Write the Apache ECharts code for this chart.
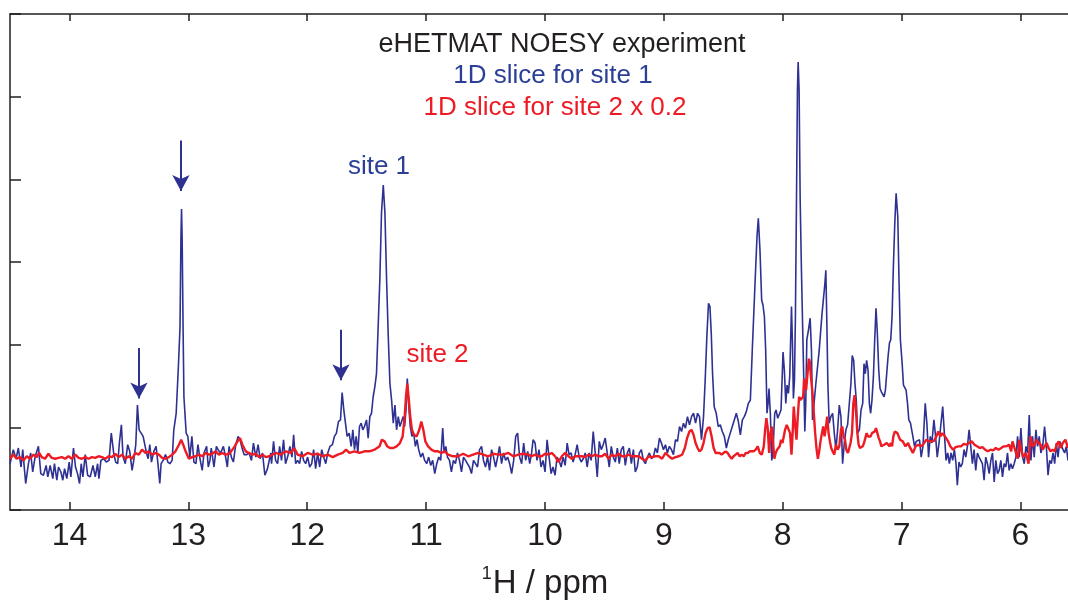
<!DOCTYPE html>
<html>
<head>
<meta charset="utf-8">
<script src="https://cdn.jsdelivr.net/npm/echarts@6/dist/echarts.min.js"></script>
<style>html,body{margin:0;padding:0;background:#fff}#c{width:1068px;height:602px}</style>
</head>
<body>
<div id="c"></div>
<script>
// x tick labels (ppm)
const ppmTicks = [14, 13, 12, 11, 10, 9, 8, 7, 6];
// y axis (arbitrary intensity units)
const yTicks = [0, 1, 2, 3, 4, 5, 6];

// 1D slice for site 1 : [ppm, intensity]
const blueSlice = [
[14.500,0.56],[14.472,0.73],[14.449,0.62],[14.430,0.75],[14.407,0.52],[14.393,0.73],[14.368,0.32],[14.345,0.56],[14.326,0.69],[14.309,0.46],
[14.289,0.64],[14.261,0.77],[14.241,0.44],[14.219,0.42],[14.196,0.54],[14.182,0.40],[14.162,0.54],[14.140,0.38],[14.126,0.56],[14.106,0.36],
[14.092,0.52],[14.072,0.46],[14.056,0.36],[14.041,0.50],[14.022,0.38],[14.002,0.58],[13.988,0.40],[13.966,0.75],[13.949,0.52],[13.932,0.44],
[13.915,0.32],[13.901,0.56],[13.887,0.40],[13.867,0.67],[13.847,0.42],[13.825,0.40],[13.802,0.54],[13.783,0.40],[13.763,0.56],[13.752,0.38],
[13.735,0.60],[13.712,0.62],[13.690,0.58],[13.667,0.60],[13.648,0.93],[13.628,0.69],[13.611,0.58],[13.594,0.56],[13.580,0.81],[13.563,1.03],
[13.549,0.64],[13.530,0.56],[13.510,0.79],[13.493,0.71],[13.473,0.48],[13.459,0.60],[13.442,0.79],[13.428,1.27],[13.414,0.97],[13.397,0.93],
[13.380,0.89],[13.366,0.79],[13.352,0.69],[13.338,0.62],[13.324,0.79],[13.310,0.58],[13.290,0.71],[13.271,0.77],[13.254,0.54],[13.240,0.32],
[13.229,0.56],[13.212,0.60],[13.192,0.67],[13.172,0.58],[13.155,0.56],[13.136,0.60],[13.122,0.97],[13.102,1.17],[13.085,1.69],[13.070,2.20],
[13.062,3.30],[13.057,3.64],[13.052,3.30],[13.044,2.20],[13.037,1.37],[13.018,0.93],[13.004,0.89],[12.987,0.64],[12.970,0.89],[12.953,0.58],
[12.936,0.56],[12.919,0.79],[12.902,0.62],[12.883,0.48],[12.868,0.69],[12.846,0.77],[12.832,0.52],[12.818,0.60],[12.807,0.75],[12.784,0.52],
[12.764,0.77],[12.750,0.73],[12.728,0.69],[12.705,0.77],[12.686,0.64],[12.672,0.52],[12.657,0.77],[12.638,0.64],[12.621,0.58],[12.601,0.79],
[12.581,0.89],[12.565,0.85],[12.548,0.75],[12.531,0.67],[12.508,0.67],[12.489,0.69],[12.469,0.60],[12.452,0.81],[12.432,0.64],[12.413,0.79],
[12.396,0.62],[12.376,0.69],[12.356,0.42],[12.334,0.50],[12.306,0.69],
[12.300,0.56],[12.283,0.83],[12.266,0.60],[12.249,0.56],[12.232,0.77],[12.216,0.60],[12.199,0.85],[12.182,0.56],[12.165,0.64],[12.145,0.77],
[12.128,0.64],[12.114,0.91],[12.097,0.56],[12.081,0.60],[12.064,0.56],[12.047,0.71],[12.030,0.60],[12.013,0.56],[11.996,0.64],[11.979,0.52],
[11.962,0.56],[11.946,0.73],[11.929,0.50],[11.912,0.69],[11.895,0.52],[11.878,0.73],[11.861,0.64],[11.844,0.56],[11.827,0.69],[11.808,0.77],
[11.788,0.79],[11.771,0.89],[11.754,0.93],[11.737,1.07],[11.720,1.09],[11.706,1.42],[11.692,1.21],[11.678,1.05],[11.664,0.89],[11.647,0.93],
[11.630,0.77],[11.616,0.97],[11.602,0.73],[11.588,0.89],[11.574,0.69],[11.560,1.01],[11.546,1.05],[11.532,0.97],[11.518,1.01],[11.501,1.09],
[11.487,0.87],[11.473,1.13],[11.459,1.17],[11.445,1.37],[11.431,1.49],[11.417,1.65],[11.403,2.22],[11.389,2.78],[11.375,3.59],[11.360,3.93],
[11.346,3.59],[11.332,2.78],[11.318,2.10],[11.304,1.53],[11.290,1.33],[11.276,1.05],[11.262,1.27],[11.248,0.97],[11.234,1.13],[11.220,1.01],
[11.206,1.01],[11.192,1.13],[11.180,1.01],[11.169,1.21],[11.158,1.59],[11.147,1.29],[11.133,1.01],[11.119,0.89],[11.104,0.93],[11.090,0.77],
[11.076,0.85],[11.062,0.73],[11.045,0.64],[11.029,0.69],[11.012,0.60],[10.995,0.56],[10.978,0.64],[10.961,0.54],[10.944,0.60],[10.927,0.44],
[10.910,0.56],[10.893,0.64],[10.877,0.60],[10.860,0.99],[10.848,0.69],[10.834,0.77],[10.820,0.64],[10.803,0.60],[10.787,0.46],[10.770,0.60],
[10.753,0.56],[10.736,0.69],[10.719,0.60],[10.702,0.46],[10.685,0.64],[10.668,0.60],[10.652,0.56],[10.635,0.52],[10.618,0.44],[10.601,0.60],
[10.584,0.56],[10.567,0.52],[10.550,0.73],[10.533,0.77],[10.517,0.60],[10.500,0.52],[10.483,0.64],[10.466,0.48],[10.449,0.73],[10.432,0.64],
[10.415,0.52],[10.398,0.64],[10.382,0.77],[10.365,0.56],[10.348,0.69],[10.331,0.60],[10.314,0.64],[10.297,0.56],[10.280,0.44],[10.263,0.60],
[10.246,0.89],[10.230,0.93],[10.213,0.64],[10.196,0.56],[10.179,0.81],[10.162,0.60],[10.145,0.71],[10.128,0.56],
[10.112,0.69],[10.100,0.85],[10.083,0.81],[10.067,0.60],[10.050,0.73],[10.033,0.52],[10.016,0.60],[9.999,0.46],[9.982,0.85],[9.965,0.64],
[9.948,0.44],[9.932,0.52],[9.915,0.42],[9.898,0.64],[9.881,0.60],[9.864,0.52],[9.847,0.64],[9.830,0.54],[9.813,0.81],[9.797,0.67],
[9.780,0.69],[9.763,0.58],[9.746,0.67],[9.729,0.79],[9.712,0.64],[9.695,0.58],[9.678,0.62],[9.661,0.69],[9.645,0.52],[9.628,0.69],
[9.611,0.60],[9.594,0.95],[9.577,0.69],[9.560,0.40],[9.543,0.83],[9.526,0.73],[9.510,0.79],[9.493,0.87],[9.476,0.69],[9.459,0.52],
[9.442,0.77],[9.425,0.64],[9.408,0.58],[9.391,0.75],[9.375,0.56],[9.358,0.73],[9.341,0.77],[9.324,0.54],[9.307,0.69],[9.290,0.75],
[9.273,0.56],[9.256,0.73],[9.240,0.46],[9.223,0.52],[9.206,0.69],[9.189,0.73],[9.172,0.60],[9.155,0.56],[9.138,0.64],[9.121,0.69],
[9.105,0.62],[9.088,0.64],[9.071,0.75],[9.054,0.69],[9.037,0.87],[9.020,0.81],[9.003,0.73],[8.986,0.79],[8.970,0.69],[8.953,0.77],
[8.936,0.73],[8.919,0.67],[8.902,0.85],[8.885,0.83],[8.868,1.01],[8.851,0.95],[8.835,1.05],[8.818,0.99],[8.801,1.13],[8.784,1.03],
[8.767,1.13],[8.750,1.17],[8.733,1.05],[8.716,1.17],[8.700,1.13],[8.683,0.85],[8.666,1.13],[8.652,1.57],[8.638,2.10],[8.624,2.50],
[8.612,2.46],[8.601,2.14],[8.590,1.65],[8.576,1.25],[8.559,1.17],[8.542,1.01],[8.525,1.03],[8.508,0.95],[8.491,0.89],[8.474,0.75],
[8.458,0.85],[8.441,0.93],[8.424,1.01],[8.407,1.09],[8.390,1.17],[8.373,1.07],[8.356,0.91],[8.339,1.09],[8.323,1.13],[8.306,1.19],
[8.289,1.29],[8.272,1.33],
[8.256,1.93],[8.242,2.42],[8.227,2.94],[8.216,3.31],[8.205,3.53],[8.191,3.14],[8.177,2.54],[8.166,2.48],[8.154,2.34],[8.143,1.93],
[8.132,1.17],[8.123,1.29],[8.115,1.47],[8.104,1.17],[8.092,0.60],[8.081,0.73],[8.067,1.17],[8.056,1.21],[8.042,1.11],[8.031,1.13],
[8.014,1.21],[7.997,1.91],[7.986,1.69],[7.974,1.29],[7.963,1.51],[7.952,1.41],[7.941,1.61],[7.926,2.46],[7.918,2.02],[7.910,1.35],
[7.901,1.57],[7.893,2.34],[7.884,3.75],[7.876,5.08],[7.870,5.42],[7.862,5.08],[7.853,3.75],[7.842,2.88],[7.831,2.86],[7.822,1.53],
[7.814,0.95],[7.806,1.29],[7.797,2.06],[7.783,2.18],[7.769,2.32],[7.758,1.93],[7.749,1.09],[7.735,1.09],[7.721,1.53],[7.693,1.93],
[7.670,2.36],[7.662,2.34],[7.654,2.38],[7.645,2.74],[7.637,2.90],[7.628,2.22],[7.620,1.53],[7.609,1.05],[7.595,1.13],[7.580,1.17],
[7.566,0.93],[7.552,0.73],[7.538,0.97],[7.524,1.27],[7.510,1.13],[7.496,0.56],[7.482,0.81],[7.468,0.97],[7.454,1.03],[7.440,1.05],
[7.426,1.53],[7.415,1.87],[7.403,1.81],[7.392,1.53],[7.381,1.33],[7.370,0.93],[7.355,0.97],[7.341,1.21],[7.327,1.29],[7.316,1.77],
[7.305,1.65],[7.294,1.81],[7.282,1.69],[7.271,1.29],[7.260,1.17],[7.249,1.33],[7.237,1.61],[7.226,2.06],[7.215,2.44],[7.204,2.14],
[7.192,1.69],[7.181,1.47],[7.170,1.43],[7.159,1.45],[7.147,1.37],[7.136,1.45],[7.125,1.47],[7.114,1.85],[7.102,2.02],[7.091,2.06],
[7.080,2.34],[7.069,2.94],[7.057,3.47],[7.046,3.83],[7.040,3.85],[7.032,3.55],[7.021,2.74],[7.010,2.06],[6.995,1.77],[6.984,1.51],
[6.973,1.49],[6.962,1.45],[6.950,1.29],[6.939,1.09],[6.925,1.05],
[6.919,1.05],[6.905,0.89],[6.891,0.77],[6.877,0.83],[6.863,0.81],[6.849,0.85],[6.835,0.64],[6.820,0.77],[6.801,1.29],[6.787,1.05],
[6.773,0.64],[6.759,0.89],[6.745,0.81],[6.728,1.09],[6.714,0.89],[6.700,0.64],[6.685,0.81],[6.671,1.01],[6.654,1.25],[6.640,0.93],
[6.626,0.60],[6.612,0.69],[6.598,0.56],[6.584,0.69],[6.570,0.60],[6.556,0.73],[6.542,0.56],[6.531,0.30],[6.517,0.58],[6.503,0.52],
[6.489,0.56],[6.474,0.73],[6.460,0.64],[6.446,0.77],[6.432,0.97],[6.418,0.77],[6.404,0.56],[6.390,0.73],[6.376,0.48],[6.362,0.69],
[6.348,0.64],[6.334,0.64],[6.320,0.56],[6.306,0.36],[6.292,0.64],[6.278,0.56],[6.263,0.44],[6.249,0.60],[6.235,0.69],[6.221,0.34],
[6.207,0.60],[6.193,0.44],[6.179,0.48],[6.165,0.60],[6.151,0.40],[6.137,0.56],[6.123,0.52],[6.109,0.69],[6.095,0.48],[6.081,0.56],
[6.067,0.50],[6.053,0.56],[6.038,0.64],[6.024,0.89],[6.010,0.64],[5.996,0.99],[5.982,0.64],[5.968,0.56],[5.954,0.77],[5.940,0.69],
[5.926,1.15],[5.912,0.60],[5.898,0.89],[5.884,0.64],[5.870,0.97],[5.856,0.77],[5.842,0.89],[5.828,0.69],[5.813,0.77],[5.797,1.01],
[5.782,0.77],[5.768,0.42],[5.754,0.60],[5.740,0.56],[5.726,0.69],[5.712,0.56],[5.698,0.81],[5.684,0.64],[5.670,0.83],[5.656,0.85],
[5.642,0.73],[5.628,0.69],[5.614,0.77],[5.600,0.60]
];

// 1D slice for site 2 x 0.2 : [ppm, intensity]
const redSlice = [
[14.500,0.62],[14.472,0.67],[14.444,0.62],[14.416,0.64],[14.387,0.60],[14.359,0.65],[14.331,0.62],[14.303,0.67],[14.275,0.64],[14.255,0.69],
[14.233,0.64],[14.205,0.62],[14.177,0.68],[14.148,0.63],[14.120,0.62],[14.092,0.63],[14.064,0.64],[14.036,0.62],[14.008,0.65],[13.980,0.62],
[13.951,0.67],[13.923,0.63],[13.895,0.62],[13.867,0.64],[13.839,0.62],[13.811,0.64],[13.783,0.63],[13.755,0.65],[13.726,0.64],[13.698,0.62],
[13.670,0.65],[13.642,0.64],[13.614,0.68],[13.586,0.64],[13.558,0.67],[13.530,0.62],[13.501,0.65],[13.473,0.62],[13.445,0.69],[13.417,0.67],
[13.389,0.73],[13.361,0.69],[13.333,0.71],[13.304,0.67],[13.276,0.69],[13.248,0.67],[13.220,0.63],[13.192,0.62],[13.164,0.64],[13.136,0.67],
[13.108,0.71],[13.079,0.79],[13.060,0.85],[13.043,0.79],[13.023,0.71],[12.995,0.62],[12.967,0.64],[12.939,0.65],[12.911,0.67],[12.883,0.65],
[12.854,0.69],[12.826,0.67],[12.798,0.68],[12.770,0.71],[12.742,0.67],[12.714,0.69],[12.686,0.67],[12.657,0.68],[12.629,0.73],[12.610,0.77],
[12.587,0.83],[12.565,0.87],[12.545,0.79],[12.517,0.71],[12.489,0.69],[12.461,0.67],[12.432,0.68],[12.404,0.64],[12.376,0.67],[12.348,0.64],
[12.320,0.65],
[12.306,0.64],[12.263,0.69],[12.221,0.67],[12.179,0.71],[12.137,0.69],[12.109,0.75],[12.081,0.67],[12.038,0.65],[11.996,0.69],[11.954,0.67],
[11.912,0.68],[11.870,0.65],[11.827,0.67],[11.785,0.64],[11.743,0.67],[11.701,0.69],[11.673,0.73],[11.645,0.69],[11.602,0.71],[11.560,0.69],
[11.518,0.71],[11.476,0.71],[11.434,0.73],[11.391,0.77],[11.372,0.85],[11.349,0.83],[11.327,0.77],[11.304,0.75],[11.276,0.75],[11.248,0.77],
[11.220,0.81],[11.197,0.89],[11.180,1.13],[11.169,1.37],[11.158,1.53],[11.147,1.37],[11.133,1.13],[11.119,0.97],[11.102,0.91],[11.079,0.89],
[11.057,0.97],[11.040,1.07],[11.023,0.97],[11.006,0.83],[10.983,0.77],[10.955,0.73],[10.927,0.71],[10.899,0.71],[10.871,0.69],[10.843,0.71],
[10.815,0.67],[10.773,0.65],[10.730,0.65],[10.688,0.68],[10.646,0.65],[10.604,0.67],[10.562,0.69],[10.519,0.67],[10.477,0.65],[10.435,0.68],
[10.393,0.67],[10.351,0.67],[10.308,0.69],[10.266,0.65],[10.224,0.67],[10.182,0.68],[10.140,0.67],
[10.112,0.65],[10.083,0.67],[10.055,0.65],[10.027,0.65],[9.999,0.68],[9.971,0.67],[9.943,0.69],[9.915,0.65],[9.887,0.58],[9.858,0.65],
[9.830,0.69],[9.802,0.65],[9.774,0.62],[9.746,0.65],[9.718,0.65],[9.690,0.65],[9.662,0.64],[9.633,0.67],[9.605,0.65],[9.577,0.67],
[9.549,0.65],[9.521,0.65],[9.493,0.68],[9.465,0.62],[9.437,0.67],[9.408,0.65],[9.380,0.68],[9.352,0.65],[9.324,0.65],[9.296,0.67],
[9.268,0.65],[9.240,0.65],[9.211,0.65],[9.183,0.62],[9.155,0.60],[9.127,0.65],[9.099,0.64],[9.071,0.65],[9.043,0.65],[9.015,0.62],
[8.986,0.69],[8.958,0.65],[8.930,0.62],[8.902,0.64],[8.874,0.65],[8.846,0.67],[8.823,0.75],[8.804,0.87],[8.784,0.95],[8.767,0.97],
[8.750,0.91],[8.733,0.81],[8.716,0.75],[8.700,0.71],[8.683,0.73],[8.666,0.81],[8.649,0.93],[8.632,0.99],[8.615,1.00],[8.598,0.89],
[8.581,0.75],[8.564,0.69],[8.548,0.67],[8.531,0.69],[8.514,0.67],[8.497,0.69],[8.480,0.71],[8.463,0.69],[8.446,0.65],[8.429,0.62],
[8.413,0.65],[8.396,0.67],[8.379,0.69],[8.362,0.65],[8.345,0.67],[8.328,0.65],[8.311,0.69],[8.294,0.69],[8.277,0.71],[8.261,0.69],
[8.244,0.71],[8.227,0.73],[8.210,0.77],[8.193,0.69],[8.176,0.67],[8.159,0.77],[8.148,0.97],[8.137,1.11],[8.126,0.99],[8.114,0.69],
[8.103,0.93],[8.092,1.01],
[8.070,0.62],[8.059,0.69],[8.047,0.73],[8.036,0.75],[8.025,0.77],[8.014,0.85],[8.002,0.81],[7.991,0.89],[7.980,0.97],[7.966,1.03],
[7.952,1.01],[7.938,0.93],[7.926,0.67],[7.915,0.97],[7.907,1.25],[7.896,1.05],[7.884,0.85],[7.873,1.13],[7.862,1.37],[7.851,1.33],
[7.839,1.31],[7.828,1.37],[7.820,1.59],[7.811,1.57],[7.803,1.45],[7.791,1.65],[7.780,1.83],[7.772,1.79],[7.761,1.59],[7.749,1.41],
[7.738,1.17],[7.727,0.93],[7.716,0.75],[7.704,0.62],[7.693,0.71],[7.682,0.83],[7.670,0.93],[7.659,1.01],[7.648,0.89],[7.637,0.99],
[7.626,1.13],[7.614,0.93],[7.603,0.83],[7.592,0.75],[7.580,0.71],[7.566,0.67],[7.552,0.79],[7.538,0.73],[7.524,0.77],[7.510,0.97],
[7.499,1.01],[7.488,0.89],[7.476,0.85],[7.465,0.73],[7.451,0.69],[7.440,0.69],[7.429,0.81],[7.417,0.93],[7.406,1.29],[7.395,1.39],
[7.384,1.21],[7.372,0.93],[7.361,0.79],[7.350,0.75],[7.339,0.77],[7.327,0.77],[7.316,0.81],[7.305,0.87],[7.294,0.93],[7.282,0.89],
[7.271,0.91],[7.260,0.89],[7.249,0.93],[7.237,0.91],[7.226,0.95],[7.215,0.99],[7.204,0.97],[7.192,0.87],[7.181,0.83],[7.170,0.77],
[7.159,0.75],[7.147,0.79],[7.136,0.77],[7.125,0.81],[7.114,0.79],[7.102,0.77],[7.091,0.81],[7.080,0.77],[7.069,0.89],[7.057,0.95],
[7.046,0.97],[7.035,0.93],[7.024,0.89],[7.012,0.85],[7.001,0.85],[6.990,0.83],[6.979,0.81],[6.967,0.77],[6.956,0.79],[6.945,0.81],
[6.934,0.77],[6.919,0.73],[6.905,0.69],
[6.882,0.77],[6.860,0.79],[6.837,0.77],[6.815,0.80],[6.792,0.85],[6.770,0.83],[6.747,0.83],[6.725,0.84],[6.708,0.89],[6.691,0.95],
[6.674,0.89],[6.657,0.93],[6.635,0.89],[6.612,0.84],[6.590,0.77],[6.567,0.73],[6.545,0.76],[6.522,0.77],[6.500,0.77],[6.477,0.80],
[6.455,0.79],[6.432,0.81],[6.410,0.83],[6.387,0.79],[6.365,0.77],[6.342,0.75],[6.320,0.76],[6.297,0.73],[6.275,0.71],[6.252,0.73],
[6.230,0.72],[6.207,0.75],[6.185,0.73],[6.162,0.75],[6.140,0.77],[6.117,0.77],[6.095,0.79],[6.078,0.71],[6.067,0.83],[6.050,0.75],
[6.033,0.67],[6.022,0.62],[6.010,0.85],[5.994,0.73],[5.977,0.64],[5.954,0.69],[5.932,0.56],[5.915,0.89],[5.898,0.77],[5.881,0.79],
[5.864,0.85],[5.847,0.81],[5.830,0.79],[5.813,0.73],[5.797,0.77],[5.780,0.81],[5.763,0.75],[5.746,0.71],[5.729,0.73],[5.712,0.71],
[5.695,0.79],[5.678,0.83],[5.661,0.75],[5.644,0.81],[5.622,0.85],[5.600,0.75]
];

// arrows marking cross peaks: [ppm, from intensity, to intensity]
const arrowMarks = [[13.415, 1.96, 1.35], [13.062, 4.47, 3.86], [11.716, 2.18, 1.57]];
// peak labels
const siteLabels = [
  { name: 'site 1', ppm: 11.396, y: 4.15, color: '#2b3f97' },
  { name: 'site 2', ppm: 10.904, y: 1.88, color: '#ed1c24' }
];

const FONT = '"Liberation Sans", Arial, Helvetica, sans-serif';
const AXIS_COLOR = '#231f20';
const BLUE = '#2e3192';
const RED = '#ed1c24';

const chart = echarts.init(document.getElementById('c'), null, { renderer: 'canvas' });

const xCommon = {
  type: 'value', inverse: true, min: 5.6, max: 14.5,
  splitLine: { show: false },
  axisLine: { show: true, onZero: false, lineStyle: { color: AXIS_COLOR, width: 1.5 } }
};

chart.setOption({
  animation: false,
  backgroundColor: '#ffffff',
  grid: { left: 10, right: 0, top: 14, bottom: 92, containLabel: false },
  xAxis: [
    Object.assign({}, xCommon, {
      position: 'bottom',
      axisTick: { show: true, inside: true, length: 8, customValues: ppmTicks, lineStyle: { color: AXIS_COLOR, width: 1.5 } },
      axisLabel: { show: true, customValues: ppmTicks, fontSize: 32, fontFamily: FONT, color: AXIS_COLOR, margin: 10 }
    }),
    Object.assign({}, xCommon, {
      position: 'top',
      axisTick: { show: true, inside: true, length: 7, customValues: ppmTicks, lineStyle: { color: AXIS_COLOR, width: 1.5 } },
      axisLabel: { show: false }
    })
  ],
  yAxis: {
    type: 'value', min: yTicks[0], max: yTicks[yTicks.length - 1], interval: 1,
    splitLine: { show: false },
    axisLine: { show: true, onZero: false, lineStyle: { color: AXIS_COLOR, width: 1.5 } },
    axisTick: { show: true, inside: true, length: 11, lineStyle: { color: AXIS_COLOR, width: 1.5 } },
    axisLabel: { show: false }
  },
  series: [
    {
      name: '1D slice for site 1', type: 'line', xAxisIndex: 0, data: blueSlice,
      showSymbol: false, symbol: 'none', smooth: false,
      lineStyle: { color: BLUE, width: 1.6 }, itemStyle: { color: BLUE },
      markLine: {
        silent: true, symbol: ['none', 'arrow'], symbolSize: [13, 16],
        label: { show: false },
        lineStyle: { color: BLUE, width: 2, type: 'solid' },
        emphasis: { disabled: true },
        data: arrowMarks.map(a => [{ coord: [a[0], a[1]] }, { coord: [a[0], a[2]] }])
      },
      markPoint: {
        silent: true, symbol: 'circle', symbolSize: 1,
        itemStyle: { color: 'rgba(0,0,0,0)' },
        data: siteLabels.map(s => ({
          coord: [s.ppm, s.y], value: s.name,
          label: { show: true, position: 'inside', formatter: s.name, fontSize: 26, fontFamily: FONT, color: s.color }
        }))
      }
    },
    {
      name: '1D slice for site 2 x 0.2', type: 'line', xAxisIndex: 0, data: redSlice,
      showSymbol: false, symbol: 'none', smooth: false,
      lineStyle: { color: RED, width: 2.4 }, itemStyle: { color: RED }
    }
  ],
  graphic: [
    { type: 'text', x: 562, y: 45, silent: true,
      style: { text: 'eHETMAT NOESY experiment', fill: '#231f20', fontSize: 27, fontFamily: FONT, align: 'center', verticalAlign: 'middle', textAlign: 'center', textVerticalAlign: 'middle' } },
    { type: 'text', x: 553, y: 76, silent: true,
      style: { text: '1D slice for site 1', fill: '#2b3f97', fontSize: 26, fontFamily: FONT, align: 'center', verticalAlign: 'middle', textAlign: 'center', textVerticalAlign: 'middle' } },
    { type: 'text', x: 555, y: 108, silent: true,
      style: { text: '1D slice for site 2 x 0.2', fill: RED, fontSize: 26, fontFamily: FONT, align: 'center', verticalAlign: 'middle', textAlign: 'center', textVerticalAlign: 'middle' } },
    { type: 'text', x: 545, y: 584, silent: true,
      style: { text: '{s|1}{n|H / ppm}', fill: '#231f20', fontSize: 33, fontFamily: FONT, align: 'center', verticalAlign: 'middle', textAlign: 'center', textVerticalAlign: 'middle',
        rich: { s: { fontSize: 18, fontFamily: FONT, fill: '#231f20', verticalAlign: 'top', lineHeight: 38, padding: [0, 1, 0, 0] },
                n: { fontSize: 33, fontFamily: FONT, fill: '#231f20', lineHeight: 38 } } } }
  ]
});
</script>
</body>
</html>
